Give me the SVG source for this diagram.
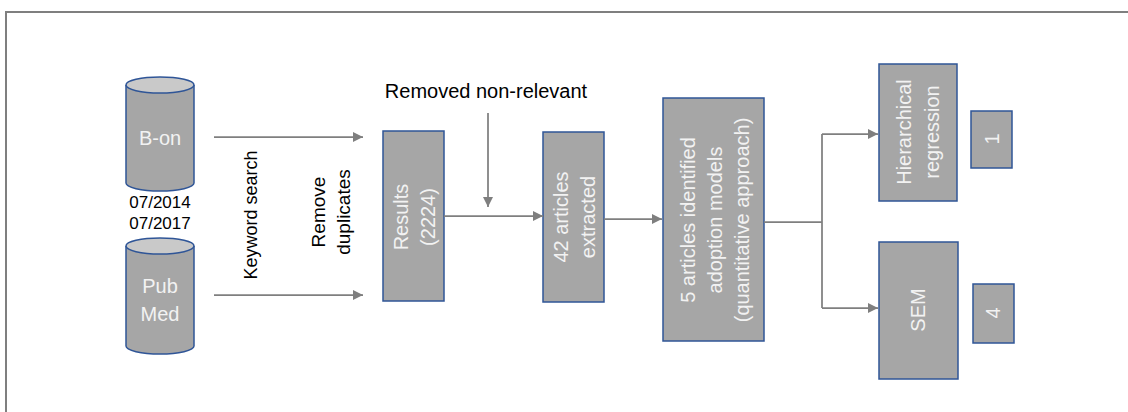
<svg xmlns="http://www.w3.org/2000/svg" width="1128" height="412" viewBox="0 0 1128 412">
  <style>
    .box { fill: #a6a6a6; stroke: #2f5597; stroke-width: 1.5; }
    .cyl { fill: #a6a6a6; stroke: #2f5597; stroke-width: 1.5; }
    .cyltop { fill: #c9c9c9; stroke: #2f5597; stroke-width: 1.5; }
    .wt { font-family: "Liberation Sans", Arial, sans-serif; font-size: 20px; fill: #f2f2f2; text-anchor: middle; }
    .bt { font-family: "Liberation Sans", Arial, sans-serif; font-size: 19px; fill: #000000; text-anchor: middle; }
    .rot { dominant-baseline: central; }
    .conn { fill: none; stroke: #7f7f7f; stroke-width: 1.75; }
  </style>
  <defs>
    <marker id="arrow" viewBox="0 0 10 10" refX="10" refY="5" markerWidth="10" markerHeight="10" markerUnits="userSpaceOnUse" orient="auto">
      <path d="M0,0 L10,5 L0,10 z" fill="#7f7f7f"/>
    </marker>
  </defs>

  <rect width="1128" height="412" fill="#ffffff"/>
  <!-- frame -->
  <rect x="6" y="12" width="1130" height="410" fill="none" stroke="#7f7f7f" stroke-width="2"/>

  <!-- databases -->
  <g id="b-on">
    <path class="cyl" d="M126,85 V183 A34,8 0 0 0 194,183 V85"/>
    <ellipse class="cyltop" cx="160" cy="85" rx="34" ry="8"/>
    <text class="wt" x="160" y="145">B-on</text>
  </g>
  <g id="pubmed">
    <path class="cyl" d="M126,246 V346 A34,8 0 0 0 194,346 V246"/>
    <ellipse class="cyltop" cx="160" cy="246" rx="34" ry="8"/>
    <text class="wt" x="160" y="293">Pub</text>
    <text class="wt" x="160" y="321">Med</text>
  </g>
  <g id="period">
    <text class="bt" x="160" y="208" style="font-size:17px">07/2014</text>
    <text class="bt" x="160" y="229" style="font-size:17px">07/2017</text>
  </g>

  <!-- step labels -->
  <g id="keyword-search">
    <text class="bt rot" transform="translate(251,215) rotate(-90)" x="0" y="0" style="font-size:18px">Keyword search</text>
  </g>
  <g id="remove-duplicates">
    <text class="bt rot" transform="translate(330,212) rotate(-90)" x="0" y="-12">Remove</text>
    <text class="bt rot" transform="translate(330,212) rotate(-90)" x="0" y="13">duplicates</text>
  </g>
  <g id="removed-non-relevant">
    <text class="bt" x="486" y="98" style="font-size:20px">Removed non-relevant</text>
  </g>

  <!-- process boxes -->
  <g id="results">
    <rect class="box" x="383" y="131" width="61" height="170"/>
    <text class="wt rot" transform="translate(414,217) rotate(-90)" x="0" y="-13">Results</text>
    <text class="wt rot" transform="translate(414,217) rotate(-90)" x="0" y="14">(2224)</text>
  </g>
  <g id="extracted">
    <rect class="box" x="543" y="132" width="61" height="170"/>
    <text class="wt rot" transform="translate(574,217) rotate(-90)" x="0" y="-13">42 articles</text>
    <text class="wt rot" transform="translate(574,217) rotate(-90)" x="0" y="14">extracted</text>
  </g>
  <g id="identified">
    <rect class="box" x="663" y="98" width="101" height="243"/>
    <text class="wt rot" transform="translate(715,220) rotate(-90)" x="0" y="-27">5 articles identified</text>
    <text class="wt rot" transform="translate(715,220) rotate(-90)" x="0" y="0">adoption models</text>
    <text class="wt rot" transform="translate(715,220) rotate(-90)" x="0" y="27">(quantitative approach)</text>
  </g>
  <g id="hierarchical">
    <rect class="box" x="879" y="64" width="78" height="137"/>
    <text class="wt rot" transform="translate(918,132) rotate(-90)" x="0" y="-14">Hierarchical</text>
    <text class="wt rot" transform="translate(918,132) rotate(-90)" x="0" y="14">regression</text>
  </g>
  <g id="sem">
    <rect class="box" x="879" y="242" width="79" height="137"/>
    <text class="wt rot" transform="translate(918,310) rotate(-90)" x="0" y="0">SEM</text>
  </g>
  <g id="count-1">
    <rect class="box" x="971" y="111" width="41" height="57"/>
    <text class="wt rot" transform="translate(992,139) rotate(-90)" x="0" y="0">1</text>
  </g>
  <g id="count-4">
    <rect class="box" x="973" y="284" width="41" height="59"/>
    <text class="wt rot" transform="translate(993,313) rotate(-90)" x="0" y="0">4</text>
  </g>

  <!-- connectors -->
  <g id="connectors">
    <line class="conn" x1="214" y1="137" x2="363" y2="137" marker-end="url(#arrow)"/>
    <line class="conn" x1="214" y1="295" x2="363" y2="295" marker-end="url(#arrow)"/>
    <line class="conn" x1="488" y1="113" x2="488" y2="207" marker-end="url(#arrow)"/>
    <line class="conn" x1="444" y1="216" x2="543" y2="216" marker-end="url(#arrow)"/>
    <line class="conn" x1="604" y1="219" x2="662" y2="219" marker-end="url(#arrow)"/>
    <line class="conn" x1="764" y1="222" x2="822" y2="222"/>
    <line class="conn" x1="822" y1="134" x2="822" y2="308"/>
    <line class="conn" x1="822" y1="134" x2="878" y2="134" marker-end="url(#arrow)"/>
    <line class="conn" x1="822" y1="308" x2="878" y2="308" marker-end="url(#arrow)"/>
  </g>
</svg>
